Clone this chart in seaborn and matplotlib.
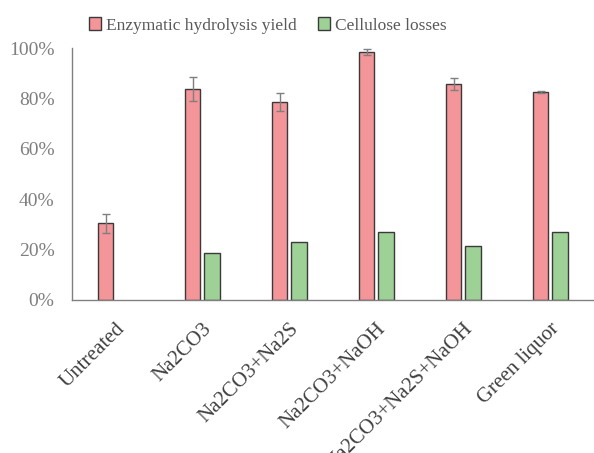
import numpy as np
import pandas as pd
import seaborn as sns
import matplotlib.pyplot as plt
from matplotlib.ticker import PercentFormatter

sns.set_theme(style="white")
plt.rcParams['font.family'] = ['Liberation Serif', 'DejaVu Serif']

# Data
treatments = ["Untreated", "Na2CO3", "Na2CO3+Na2S", "Na2CO3+NaOH",
              "Na2CO3+Na2S+NaOH", "Green liquor"]
hydrolysis_yield = [30.4, 83.6, 78.6, 98.4, 85.6, 82.5]
hydrolysis_err = [3.7, 4.7, 3.7, 1.2, 2.4, 0.3]
cellulose_losses = [np.nan, 18.5, 23.1, 27.0, 21.4, 27.0]
series = ["Enzymatic hydrolysis yield", "Cellulose losses"]

d = pd.DataFrame({
    "treatment": treatments * 2,
    "series": [series[0]] * len(treatments) + [series[1]] * len(treatments),
    "value": hydrolysis_yield + cellulose_losses,
})

f = plt.figure(figsize=(5.94, 4.53), dpi=100)
ax = f.add_axes([0.121, 0.338, 0.886, 0.556])

palette = {series[0]: "#F4959A", series[1]: "#9DD196"}
sns.barplot(data=d, x="treatment", y="value", hue="series", order=treatments,
            hue_order=series, palette=palette, width=0.45, gap=0.2,
            errorbar=None, edgecolor="#3a3a3a", linewidth=1.0, saturation=1,
            ax=ax)

# error bars on the hydrolysis yield bars
bars = ax.containers[0]
xs = [b.get_x() + b.get_width() / 2 for b in bars]
ax.errorbar(xs, hydrolysis_yield, yerr=hydrolysis_err, fmt="none",
            ecolor="#7f7f7f", elinewidth=1, capsize=3, capthick=1)

ax.set_ylim(0, 100)
ax.set_xlim(-0.5, len(treatments) - 0.45)
ax.yaxis.set_major_formatter(PercentFormatter(decimals=0))
ax.set_yticks(np.arange(0, 101, 20))
ax.set_xlabel("")
ax.set_ylabel("")
ax.tick_params(axis="y", labelsize=14, labelcolor="#7f7f7f", length=0, pad=12.5)
ax.tick_params(axis="x", labelsize=15, labelcolor="#404040", length=0, pad=14)
plt.setp(ax.get_xticklabels(), rotation=45, ha="right", rotation_mode="anchor")

for s in ["top", "right"]:
    ax.spines[s].set_visible(False)
for s in ["left", "bottom"]:
    ax.spines[s].set_color("#808080")
    ax.spines[s].set_linewidth(1)

leg = ax.legend(loc="lower center", bbox_to_anchor=(0.372, 1.016), ncol=2,
                frameon=False, fontsize=12.5, handlelength=0.7, handleheight=0.7,
                handletextpad=0.3, columnspacing=1.2, borderaxespad=0.2)
for t in leg.get_texts():
    t.set_color("#595959")

f.savefig("out.png", dpi=100)
